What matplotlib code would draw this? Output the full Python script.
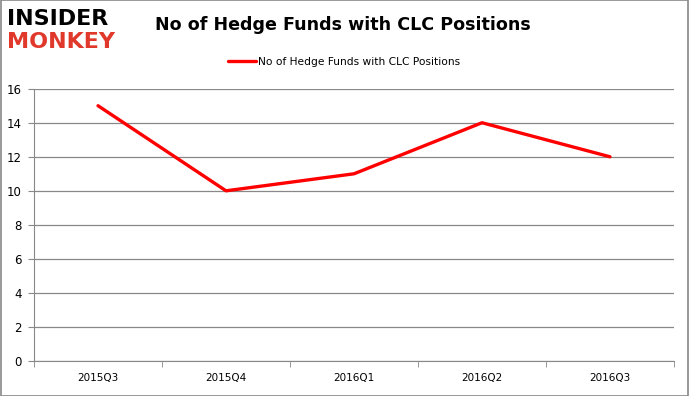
import matplotlib.pyplot as plt
import numpy as np
from matplotlib.patches import Rectangle

quarters = ['2015Q3', '2015Q4', '2016Q1', '2016Q2', '2016Q3']
hedge_funds = [15, 10, 11, 14, 12]
y_ticks = [0, 2, 4, 6, 8, 10, 12, 14, 16]
series_name = 'No of Hedge Funds with CLC Positions'

fig = plt.figure(figsize=(6.89, 3.96), dpi=100)
ax = fig.add_axes([0.0494, 0.0884, 0.9288, 0.6876])

x = np.arange(len(quarters))
ax.plot(x, hedge_funds, color='#ff0000', linewidth=2.4, label=series_name,
        solid_capstyle='round')

ax.set_xlim(-0.5, len(quarters) - 0.5)
ax.set_ylim(0, 16)
ax.set_yticks(y_ticks)
ax.set_xticks(x)
ax.set_xticklabels(quarters, fontsize=7.5)
ax.set_xticks(np.arange(len(quarters) + 1) - 0.5, minor=True)
ax.tick_params(axis='x', which='major', length=0, pad=9)
ax.tick_params(axis='x', which='minor', length=4, color='#888888')
ax.tick_params(axis='y', length=4, color='#888888', labelsize=8.5, pad=5)

ax.grid(axis='y', color='#888888', linewidth=0.9)
ax.set_axisbelow(True)
for side in ['top', 'right']:
    ax.spines[side].set_visible(False)
for side in ['left', 'bottom']:
    ax.spines[side].set_color('#888888')

fig.text(0.497, 0.937, series_name, ha='center', va='center',
         fontsize=12.6, fontweight='bold')
fig.legend(loc='center', bbox_to_anchor=(0.5, 0.843), frameon=False,
           fontsize=7.7, handlelength=2.6, handletextpad=0.2)

# logo
fig.text(0.01, 0.952, 'INSIDER', fontsize=16, fontweight='bold', color='black',
         va='center', ha='left')
fig.text(0.01, 0.895, 'MONKEY', fontsize=16, fontweight='bold', color='#e0392b',
         va='center', ha='left')

fig.patches.append(Rectangle((0.001, 0.001), 0.998, 0.998, transform=fig.transFigure,
                             fill=False, edgecolor='#888888', linewidth=1.2))

fig.savefig('out.png', dpi=100)
